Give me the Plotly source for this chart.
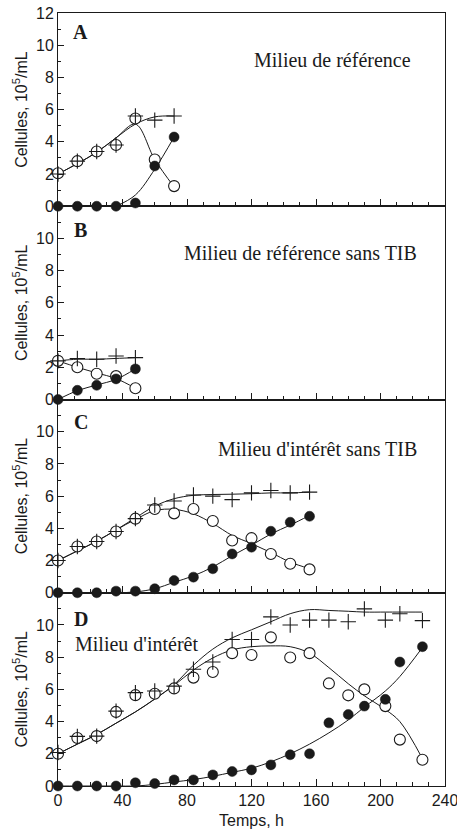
import plotly.graph_objects as go
from plotly.subplots import make_subplots

# ---- data (time in h, cells in 10^5/mL) ----
t_A = [0, 12, 24, 36, 48, 60, 72]
total_A = [2.0, 2.8, 3.4, 3.8, 5.6, 5.35, 5.6]
viable_A = [2.05, 2.8, 3.4, 3.8, 5.45, 2.9, 1.25]
dead_A = [0, 0, 0, 0, 0.2, 2.5, 4.3]
fit_total_A = [2.0, 2.65, 3.35, 4.25, 5.1, 5.55, 5.6]
fit_viable_A = [2.0, 2.65, 3.35, 4.25, 5.1, 2.9, 1.2]
fit_dead_t_A = [36, 48, 60, 72]
fit_dead_A = [0, 0.7, 2.3, 4.3]

t_B = [0, 12, 24, 36, 48]
total_B = [2.4, 2.55, 2.5, 2.7, 2.6]
viable_B = [2.4, 2.0, 1.6, 1.45, 0.7]
dead_B = [0, 0.57, 0.88, 1.28, 1.9]
fit_total_B = [2.4, 2.5, 2.5, 2.55, 2.6]
fit_viable_B = [2.4, 2.0, 1.65, 1.3, 0.7]
fit_dead_B = [0, 0.55, 0.9, 1.25, 1.9]

t_C = [0, 12, 24, 36, 48, 60, 72, 84, 96, 108, 120, 132, 144, 156]
total_C = [2.0, 2.87, 3.18, 3.8, 4.6, 5.45, 5.7, 6.07, 6.0, 5.78, 6.2, 6.35, 6.2, 6.25]
viable_C = [2.0, 2.87, 3.18, 3.8, 4.6, 5.2, 4.93, 5.2, 4.46, 3.24, 3.39, 2.41, 1.8, 1.45]
dead_C = [0, 0, 0, 0.1, 0.1, 0.25, 0.76, 0.97, 1.49, 2.41, 2.83, 3.82, 4.38, 4.75]
fit_total_C = [2.0, 2.6, 3.2, 3.9, 4.65, 5.38, 5.84, 6.05, 6.1, 6.12, 6.15, 6.2, 6.2, 6.25]
fit_viable_C = [2.0, 2.6, 3.2, 3.9, 4.55, 5.1, 5.18, 4.9, 4.3, 3.56, 3.05, 2.5, 1.9, 1.5]
fit_dead_C = [0, 0, 0, 0, 0.05, 0.25, 0.65, 1.05, 1.6, 2.3, 2.95, 3.65, 4.2, 4.8]

t_D = [0, 12, 24, 36, 48, 60, 72, 84, 96, 108, 120, 132, 144, 156, 168, 180, 190, 203, 212, 226]
total_D = [2.08, 3.08, 3.1, 4.65, 5.8, 5.9, 6.2, 7.25, 7.7, 9.1, 9.1, 10.5, 10.0, 10.3,
           10.3, 10.2, 11.0, 10.3, 10.7, 10.27]
viable_D = [2.0, 2.98, 3.1, 4.6, 5.64, 5.73, 6.06, 6.73, 7.08, 8.25, 8.13, 9.23, 7.98, 8.25,
            6.37, 5.63, 6.0, 4.96, 2.88, 1.63]
dead_D = [0, 0, 0, 0, 0.2, 0.15, 0.38, 0.38, 0.69, 0.9, 1.0, 1.31, 1.94, 2.0,
          3.92, 4.44, 4.96, 5.38, 7.7, 8.65]
fit_total_D = [2.0, 2.6, 3.2, 3.9, 4.6, 5.4, 6.3, 7.5, 8.5, 9.2, 9.7, 10.2, 10.7, 10.95,
               10.9, 10.85, 10.8, 10.8, 10.8, 10.8]
fit_viable_D = [2.0, 2.6, 3.2, 3.9, 4.6, 5.4, 6.25, 7.2, 7.95, 8.45, 8.65, 8.7, 8.65, 8.25,
                7.35, 6.35, 5.6, 4.75, 4.0, 1.7]
fit_dead_D = [0, 0, 0, 0, 0, 0.1, 0.25, 0.4, 0.6, 0.85, 1.1, 1.5, 2.0, 2.6,
              3.3, 4.1, 4.9, 5.9, 6.8, 8.6]

panel_letters = ["A", "B", "C", "D"]
panel_titles = ["Milieu de référence", "Milieu de référence sans TIB",
                "Milieu d'intérêt sans TIB", "Milieu d'intérêt"]

panels = [
    (t_A, total_A, viable_A, dead_A, t_A, fit_total_A, fit_viable_A, fit_dead_t_A, fit_dead_A),
    (t_B, total_B, viable_B, dead_B, t_B, fit_total_B, fit_viable_B, t_B, fit_dead_B),
    (t_C, total_C, viable_C, dead_C, t_C, fit_total_C, fit_viable_C, t_C, fit_dead_C),
    (t_D, total_D, viable_D, dead_D, t_D, fit_total_D, fit_viable_D, t_D, fit_dead_D),
]

INK = "#1a1a1a"
SANS = "Liberation Sans"
SERIF = "Liberation Serif"

fig = make_subplots(rows=4, cols=1, shared_xaxes=True, vertical_spacing=0)

for i, (t, tot, via, dea, ft, ftot, fvia, fdt, fdea) in enumerate(panels, start=1):
    line = dict(color=INK, width=1, shape="spline", smoothing=1.0)
    fig.add_trace(go.Scatter(x=ft, y=ftot, mode="lines", line=line, cliponaxis=False), row=i, col=1)
    fig.add_trace(go.Scatter(x=ft, y=fvia, mode="lines", line=line, cliponaxis=False), row=i, col=1)
    fig.add_trace(go.Scatter(x=fdt, y=fdea, mode="lines", line=line, cliponaxis=False), row=i, col=1)
    # total cells (+), viable (open circles), dead (filled circles)
    fig.add_trace(go.Scatter(x=t, y=via, mode="markers", cliponaxis=False,
                             marker=dict(symbol="circle", size=11, color="white",
                                         line=dict(color=INK, width=1.1))), row=i, col=1)
    fig.add_trace(go.Scatter(x=t, y=tot, mode="markers", cliponaxis=False,
                             marker=dict(symbol="cross-thin-open", size=11, color=INK,
                                         line=dict(color=INK, width=1.1))), row=i, col=1)
    fig.add_trace(go.Scatter(x=t, y=dea, mode="markers", cliponaxis=False,
                             marker=dict(symbol="circle", size=10, color=INK,
                                         line=dict(color=INK, width=0.5))), row=i, col=1)

    fig.update_yaxes(range=[0, 12],
                     tickvals=[0, 2, 4, 6, 8, 10, 12] if i == 1 else [0, 2, 4, 6, 8, 10],
                     ticks="inside", ticklen=6, tickcolor=INK,
                     minor=dict(ticks="inside", ticklen=3, dtick=1, tickcolor=INK),
                     showline=True, linecolor=INK, linewidth=1, mirror=True,
                     showgrid=False, zeroline=False, automargin=False,
                     ticklabeloverflow="allow",
                     title_text="Cellules, 10<sup>5</sup>/mL", title_standoff=4,
                     title_font_size=16, title_font_family=SANS, title_font_color=INK,
                     tickfont_size=16, tickfont_family=SANS, tickfont_color=INK,
                     row=i, col=1)
    fig.update_xaxes(range=[0, 240], tickvals=[0, 40, 80, 120, 160, 200, 240],
                     ticks="inside", ticklen=7, tickcolor=INK,
                     minor=dict(ticks="inside", ticklen=4, dtick=10, tickcolor=INK),
                     showline=True, linecolor=INK, linewidth=1, mirror=True,
                     showgrid=False, zeroline=False, automargin=False,
                     ticklabeloverflow="allow",
                     tickfont_size=16, tickfont_family=SANS, tickfont_color=INK,
                     row=i, col=1)

fig.update_xaxes(title_text="Temps, h", title_standoff=6, title_font_size=16,
                 title_font_family=SANS, title_font_color=INK, row=4, col=1)

letter_pos = [(14, 10.8), (14, 10.5), (14, 10.6), (14, 10.4)]
title_pos = [(220, 9.1, "right"), (224, 9.1, "right"), (224, 8.95, "right"), (9, 8.8, "left")]
for i in range(4):
    xr = "x" if i == 0 else f"x{i + 1}"
    yr = "y" if i == 0 else f"y{i + 1}"
    fig.add_annotation(x=letter_pos[i][0], y=letter_pos[i][1], xref=xr, yref=yr,
                       text=f"<b>{panel_letters[i]}</b>", showarrow=False,
                       font=dict(family=SERIF, size=20, color=INK))
    fig.add_annotation(x=title_pos[i][0], y=title_pos[i][1], xref=xr, yref=yr,
                       text=panel_titles[i], showarrow=False, xanchor=title_pos[i][2],
                       font=dict(family=SERIF, size=20, color=INK))

fig.update_layout(width=457, height=838, showlegend=False,
                  font=dict(family=SANS, size=16, color=INK),
                  margin=dict(l=58, r=12, t=13, b=52),
                  plot_bgcolor="white", paper_bgcolor="white")

# drop the browser's default 8 px body margin so the figure sits at the page corner
fig.write_html("out.html", config={"displayModeBar": False},
               post_script="document.body.style.margin = '0';")
